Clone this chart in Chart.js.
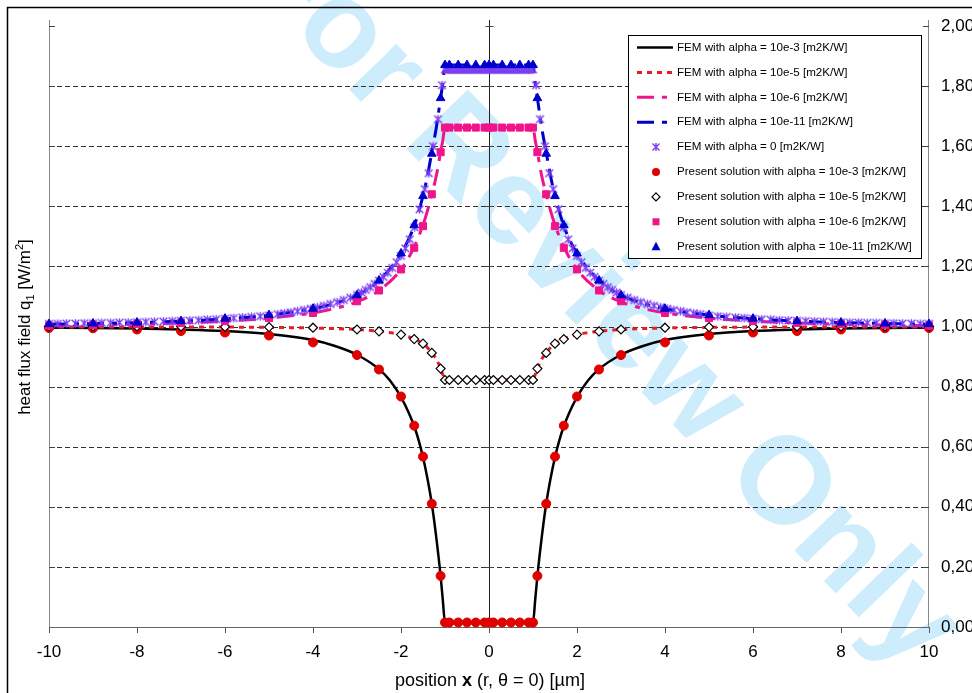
<!DOCTYPE html>
<html>
<head>
<meta charset="utf-8">
<script src="https://cdn.jsdelivr.net/npm/chart.js@4.4.1/dist/chart.umd.min.js"></script>
<style>
  body { margin: 0; background: #fff; }
  #wrap { width: 972px; height: 693px; }
</style>
</head>
<body>
<div id="wrap"><canvas id="fluxChart" width="972" height="693"></canvas></div>
<script>
// === Data (right half, x >= 0; the profiles are symmetric about x = 0) ===
// present solution sample positions [um]
const xPresent = [0, 0.1, 0.3, 0.5, 0.7, 0.9, 1.0, 1.1, 1.3, 1.5, 1.7, 2.0, 2.5, 3, 4, 5, 6, 7, 8, 9, 10];
const presentA3  = [0.015, 0.015, 0.015, 0.015, 0.015, 0.015, 0.015, 0.17, 0.41, 0.567, 0.67, 0.767, 0.857, 0.905, 0.947, 0.97, 0.98, 0.985, 0.99, 0.994, 0.995];
const presentA5  = [0.822, 0.822, 0.822, 0.822, 0.822, 0.822, 0.822, 0.86, 0.912, 0.943, 0.958, 0.973, 0.984, 0.99, 0.996, 0.998, 0.999, 1.0, 1.0, 1.0, 1.0];
const presentA6  = [1.662, 1.662, 1.662, 1.662, 1.662, 1.662, 1.662, 1.58, 1.44, 1.334, 1.262, 1.19, 1.12, 1.084, 1.045, 1.028, 1.018, 1.012, 1.008, 1.005, 1.003];
const presentA11 = [1.87, 1.87, 1.87, 1.87, 1.87, 1.87, 1.87, 1.76, 1.575, 1.434, 1.337, 1.243, 1.153, 1.104, 1.059, 1.038, 1.026, 1.018, 1.013, 1.01, 1.008];

// FEM curves
const xFemA3 = [0, 0.5, 0.9, 1.0, 1.05, 1.1, 1.2, 1.3, 1.4, 1.5, 1.6, 1.7, 1.8, 2.0, 2.25, 2.5, 3, 3.5, 4, 5, 6, 7, 8, 9, 10];
const femA3  = [0.015, 0.015, 0.015, 0.015, 0.09, 0.17, 0.30, 0.41, 0.495, 0.565, 0.622, 0.668, 0.705, 0.765, 0.82, 0.858, 0.906, 0.935, 0.955, 0.975, 0.985, 0.99, 0.993, 0.995, 0.996];

const xFemA5 = [0, 0.9, 1.0, 1.05, 1.1, 1.2, 1.3, 1.4, 1.5, 1.7, 2.0, 2.5, 3, 4, 5, 6, 8, 10];
const femA5  = [0.822, 0.822, 0.822, 0.84, 0.86, 0.892, 0.912, 0.93, 0.943, 0.958, 0.973, 0.984, 0.99, 0.995, 0.997, 0.998, 0.998, 0.998];

const xFemA6 = [0, 0.9, 1.0, 1.05, 1.1, 1.2, 1.3, 1.4, 1.5, 1.7, 2.0, 2.5, 3, 3.5, 4, 5, 6, 7, 8, 9, 10];
const femA6  = [1.662, 1.662, 1.662, 1.62, 1.58, 1.50, 1.44, 1.385, 1.338, 1.265, 1.19, 1.12, 1.082, 1.06, 1.045, 1.028, 1.018, 1.012, 1.008, 1.005, 1.003];

const xFemA11 = [0, 0.9, 1.0, 1.05, 1.1, 1.2, 1.3, 1.4, 1.5, 1.7, 2.0, 2.5, 3, 3.5, 4, 5, 6, 7, 8, 9, 10];
const femA11  = [1.87, 1.87, 1.87, 1.81, 1.76, 1.66, 1.58, 1.50, 1.435, 1.335, 1.243, 1.153, 1.104, 1.077, 1.059, 1.038, 1.026, 1.018, 1.013, 1.01, 1.008];

// FEM with alpha = 0: dense marker series
const xFemA0 = [0, 0.05, 0.1, 0.15, 0.2, 0.25, 0.3, 0.35, 0.4, 0.45, 0.5, 0.55, 0.6, 0.65, 0.7, 0.75, 0.8, 0.85, 0.9, 0.95, 1.0,
                1.07, 1.16, 1.27, 1.37, 1.46, 1.58, 1.69, 1.8, 1.9, 2.0, 2.1, 2.2, 2.3, 2.4, 2.5, 2.6, 2.7, 2.8, 2.9, 3.0,
                3.15, 3.3, 3.45, 3.6, 3.75, 3.9, 4.05, 4.2, 4.35, 4.5, 4.65, 4.8, 5.0, 5.2, 5.4, 5.6, 5.8, 6.0, 6.2, 6.4, 6.6, 6.8, 7.0,
                7.2, 7.4, 7.6, 7.8, 8.0, 8.2, 8.4, 8.6, 8.8, 9.0, 9.2, 9.4, 9.6, 9.8, 10];
const femA0  = [1.855, 1.855, 1.855, 1.855, 1.855, 1.855, 1.855, 1.855, 1.855, 1.855, 1.855, 1.855, 1.855, 1.855, 1.855, 1.855, 1.855, 1.855, 1.855, 1.855, 1.855,
                1.803, 1.69, 1.60, 1.51, 1.457, 1.39, 1.33, 1.29, 1.26, 1.235, 1.214, 1.195, 1.179, 1.165, 1.153, 1.142, 1.131, 1.122, 1.113, 1.105,
                1.096, 1.088, 1.081, 1.075, 1.069, 1.064, 1.059, 1.055, 1.051, 1.047, 1.044, 1.041, 1.037, 1.034, 1.032, 1.030, 1.028, 1.026, 1.024, 1.023, 1.021, 1.020, 1.019,
                1.018, 1.017, 1.016, 1.015, 1.014, 1.013, 1.013, 1.012, 1.012, 1.011, 1.011, 1.010, 1.010, 1.009, 1.009];

const legendLabels = [
  'FEM with alpha = 10e-3 [m2K/W]',
  'FEM with alpha = 10e-5 [m2K/W]',
  'FEM with alpha = 10e-6 [m2K/W]',
  'FEM with alpha = 10e-11 [m2K/W]',
  'FEM with alpha = 0 [m2K/W]',
  'Present solution with alpha = 10e-3 [m2K/W]',
  'Present solution with alpha = 10e-5 [m2K/W]',
  'Present solution with alpha = 10e-6 [m2K/W]',
  'Present solution with alpha = 10e-11 [m2K/W]'
];

const RED = '#e41e26';
const PINK = '#f0148c';
const BLUE = '#0000cc';
const PURPLE = '#7a3cf2';
const FONT = '"Liberation Sans", Arial, sans-serif';

// Excel-like star marker: x with a vertical bar
function drawStar(ctx, x, y, r) {
  ctx.beginPath();
  ctx.moveTo(x - r, y - r); ctx.lineTo(x + r, y + r);
  ctx.moveTo(x + r, y - r); ctx.lineTo(x - r, y + r);
  ctx.moveTo(x, y - r - 0.5); ctx.lineTo(x, y + r + 0.5);
  ctx.stroke();
}
const starImg = document.createElement('canvas');
starImg.width = 11; starImg.height = 11;
(function () {
  const c = starImg.getContext('2d');
  c.strokeStyle = PURPLE; c.lineWidth = 1.4;
  drawStar(c, 5.5, 5.5, 3.8);
})();

// build the full symmetric profile from the half profile
function mirror(xs, ys) {
  const pts = [];
  for (let i = xs.length - 1; i > 0; i--) pts.push({ x: -xs[i], y: ys[i] });
  for (let i = 0; i < xs.length; i++) pts.push({ x: xs[i], y: ys[i] });
  return pts;
}

function lineSet(label, xs, ys, color, width, dash) {
  return {
    label, data: mirror(xs, ys), showLine: true, borderColor: color, borderWidth: width,
    borderDash: dash, pointRadius: 0, cubicInterpolationMode: 'monotone', clip: 8
  };
}
function markSet(label, xs, ys, style, radius, fill, stroke, bw) {
  return {
    label, data: mirror(xs, ys), showLine: false, pointStyle: style, pointRadius: radius,
    backgroundColor: fill, borderColor: stroke, borderWidth: bw, clip: 8
  };
}

const datasets = [
  lineSet(legendLabels[0], xFemA3, femA3, '#000', 2.5, []),
  lineSet(legendLabels[1], xFemA5, femA5, RED, 3, [5, 5]),
  lineSet(legendLabels[2], xFemA6, femA6, PINK, 3, [17, 8, 5, 8]),
  lineSet(legendLabels[3], xFemA11, femA11, BLUE, 3, [17, 8, 5, 8]),
  markSet(legendLabels[4], xFemA0, femA0, starImg, 5, PURPLE, PURPLE, 1.5),
  markSet(legendLabels[5], xPresent, presentA3, 'circle', 4.5, '#e00000', '#e00000', 1),
  markSet(legendLabels[6], xPresent, presentA5, 'rectRot', 4.5, '#fff', '#000', 1.2),
  markSet(legendLabels[7], xPresent, presentA6, 'rect', 5, PINK, PINK, 1),
  markSet(legendLabels[8], xPresent, presentA11, 'triangle', 5, BLUE, BLUE, 1)
];
// later series on top, like the legend order
datasets.forEach((d, i) => { d.order = datasets.length - i; });

// === Legend marker helper ===
function drawMarker(ctx, kind, x, y) {
  ctx.save();
  ctx.setLineDash([]);
  if (kind === 'star') {
    ctx.strokeStyle = PURPLE; ctx.lineWidth = 1.4;
    drawStar(ctx, x, y, 3.5);
  } else if (kind === 'circle') {
    ctx.fillStyle = '#e00000'; ctx.beginPath(); ctx.arc(x, y, 4, 0, Math.PI * 2); ctx.fill();
  } else if (kind === 'diamond') {
    ctx.fillStyle = '#fff'; ctx.strokeStyle = '#000'; ctx.lineWidth = 1.2; ctx.beginPath();
    ctx.moveTo(x, y - 4); ctx.lineTo(x + 4, y); ctx.lineTo(x, y + 4); ctx.lineTo(x - 4, y); ctx.closePath();
    ctx.fill(); ctx.stroke();
  } else if (kind === 'square') {
    ctx.fillStyle = PINK; ctx.fillRect(x - 3.5, y - 3.5, 7, 7);
  } else if (kind === 'triangle') {
    ctx.fillStyle = BLUE; ctx.beginPath();
    ctx.moveTo(x, y - 5); ctx.lineTo(x + 4.5, y + 3.5); ctx.lineTo(x - 4.5, y + 3.5); ctx.closePath(); ctx.fill();
  }
  ctx.restore();
}

// === Decorations: watermark, grid, axes, titles, legend, frame ===
const decorPlugin = {
  id: 'decor',
  beforeDraw(chart) {
    const ctx = chart.ctx;
    ctx.save();
    ctx.fillStyle = '#fff';
    ctx.fillRect(0, 0, chart.width, chart.height);
    ctx.translate(600, 300);
    ctx.rotate(46 * Math.PI / 180);
    ctx.font = 'bold 124px ' + FONT;
    ctx.fillStyle = '#cdedfc';
    ctx.textAlign = 'center';
    ctx.textBaseline = 'middle';
    ctx.fillText('For Review Only', 0, 0);
    ctx.restore();
  },
  beforeDatasetsDraw(chart) {
    const ctx = chart.ctx;
    const { left, right, top, bottom } = chart.chartArea;
    const xs = chart.scales.x, ys = chart.scales.y;
    ctx.save();
    // dashed horizontal grid
    ctx.strokeStyle = '#333';
    ctx.lineWidth = 1;
    ctx.setLineDash([5, 3]);
    for (let v = 0.2; v < 1.95; v += 0.2) {
      const y = Math.round(ys.getPixelForValue(v)) + 0.5;
      ctx.beginPath(); ctx.moveTo(left, y); ctx.lineTo(right, y); ctx.stroke();
    }
    ctx.setLineDash([]);
    // frame axes
    ctx.strokeStyle = '#888';
    ctx.beginPath();
    ctx.moveTo(left + 0.5, top - 6); ctx.lineTo(left + 0.5, bottom);
    ctx.moveTo(right - 0.5, top - 6); ctx.lineTo(right - 0.5, bottom);
    ctx.stroke();
    // centre axis at x = 0
    const x0 = Math.round(xs.getPixelForValue(0)) + 0.5;
    ctx.strokeStyle = '#222';
    ctx.beginPath(); ctx.moveTo(x0, top - 6); ctx.lineTo(x0, bottom); ctx.stroke();
    ctx.strokeStyle = '#444';
    for (let v = 0.2; v < 2.05; v += 0.2) {
      const y = Math.round(ys.getPixelForValue(v)) + 0.5;
      ctx.beginPath();
      ctx.moveTo(x0 - 4, y); ctx.lineTo(x0 + 4, y);
      ctx.moveTo(left, y); ctx.lineTo(left + 6, y);
      ctx.moveTo(right - 6, y); ctx.lineTo(right, y);
      ctx.stroke();
    }
    ctx.restore();
  },
  afterDraw(chart) {
    const ctx = chart.ctx;
    ctx.save();
    ctx.fillStyle = '#000';
    ctx.textBaseline = 'alphabetic';

    // x title with bold x
    const tNorm = '18px ' + FONT, tBold = 'bold 18px ' + FONT;
    const parts = [['position ', tNorm], ['x', tBold], [' (r, \u03b8 = 0) [\u00b5m]', tNorm]];
    let total = 0;
    parts.forEach(p => { ctx.font = p[1]; total += ctx.measureText(p[0]).width; });
    let cx = 490 - total / 2;
    parts.forEach(p => { ctx.font = p[1]; ctx.fillText(p[0], cx, 686); cx += ctx.measureText(p[0]).width; });

    // y title with subscript / superscript
    ctx.translate(30, 327);
    ctx.rotate(-Math.PI / 2);
    const yParts = [['heat flux field q', '17px ' + FONT, 0], ['1', '11px ' + FONT, 4], [' [W/m', '17px ' + FONT, 0], ['2', '11px ' + FONT, -7], [']', '17px ' + FONT, 0]];
    total = 0;
    yParts.forEach(p => { ctx.font = p[1]; total += ctx.measureText(p[0]).width; });
    cx = -total / 2;
    yParts.forEach(p => { ctx.font = p[1]; ctx.fillText(p[0], cx, p[2]); cx += ctx.measureText(p[0]).width; });
    ctx.setTransform(1, 0, 0, 1, 0, 0);

    // legend box
    const bx = 628.5, by = 35.5, bw = 293, bh = 223;
    ctx.fillStyle = '#fff';
    ctx.fillRect(bx, by, bw, bh);
    ctx.strokeStyle = '#000';
    ctx.lineWidth = 1;
    ctx.strokeRect(bx, by, bw, bh);
    const lineStyles = [['#000', [], 2.5], [RED, [5, 5], 3], [PINK, [17, 8, 5, 8], 3], [BLUE, [17, 8, 5, 8], 3]];
    const markers = ['star', 'circle', 'diamond', 'square', 'triangle'];
    ctx.font = '11.6px ' + FONT;
    ctx.textBaseline = 'middle';
    legendLabels.forEach((lab, i) => {
      const y = 47.5 + i * 24.9;
      if (i < 4) {
        ctx.save();
        ctx.strokeStyle = lineStyles[i][0];
        ctx.setLineDash(lineStyles[i][1]);
        ctx.lineWidth = lineStyles[i][2];
        ctx.beginPath(); ctx.moveTo(637, y); ctx.lineTo(673, y); ctx.stroke();
        ctx.restore();
      } else {
        drawMarker(ctx, markers[i - 4], 656, y);
      }
      ctx.fillStyle = '#000';
      ctx.fillText(lab, 677, y);
    });

    // outer frame of the figure
    ctx.strokeStyle = '#000';
    ctx.lineWidth = 1.5;
    ctx.strokeRect(7.5, 7.5, 1000, 1000);
    ctx.restore();
  }
};

// === Chart ===
new Chart(document.getElementById('fluxChart'), {
  type: 'scatter',
  data: { datasets },
  plugins: [decorPlugin],
  options: {
    responsive: false,
    animation: false,
    layout: { padding: { left: 49, top: 26, right: 0, bottom: 0 } },
    plugins: { legend: { display: false }, tooltip: { enabled: false } },
    scales: {
      x: {
        type: 'linear', min: -10, max: 10,
        ticks: { stepSize: 2, color: '#000', font: { family: FONT, size: 17 }, padding: 9, maxRotation: 0 },
        grid: { drawOnChartArea: false, drawTicks: true, tickLength: 6, color: '#555' },
        border: { color: '#666', width: 1 },
        afterFit: s => { s.height = 66; }
      },
      y: {
        position: 'right', min: 0, max: 2,
        ticks: { stepSize: 0.2, color: '#000', font: { family: FONT, size: 17 }, padding: 4,
                 callback: v => v.toFixed(2).replace('.', ',') },
        grid: { display: false },
        border: { display: false },
        afterFit: s => { s.width = 43; }
      }
    }
  }
});
</script>
</body>
</html>
